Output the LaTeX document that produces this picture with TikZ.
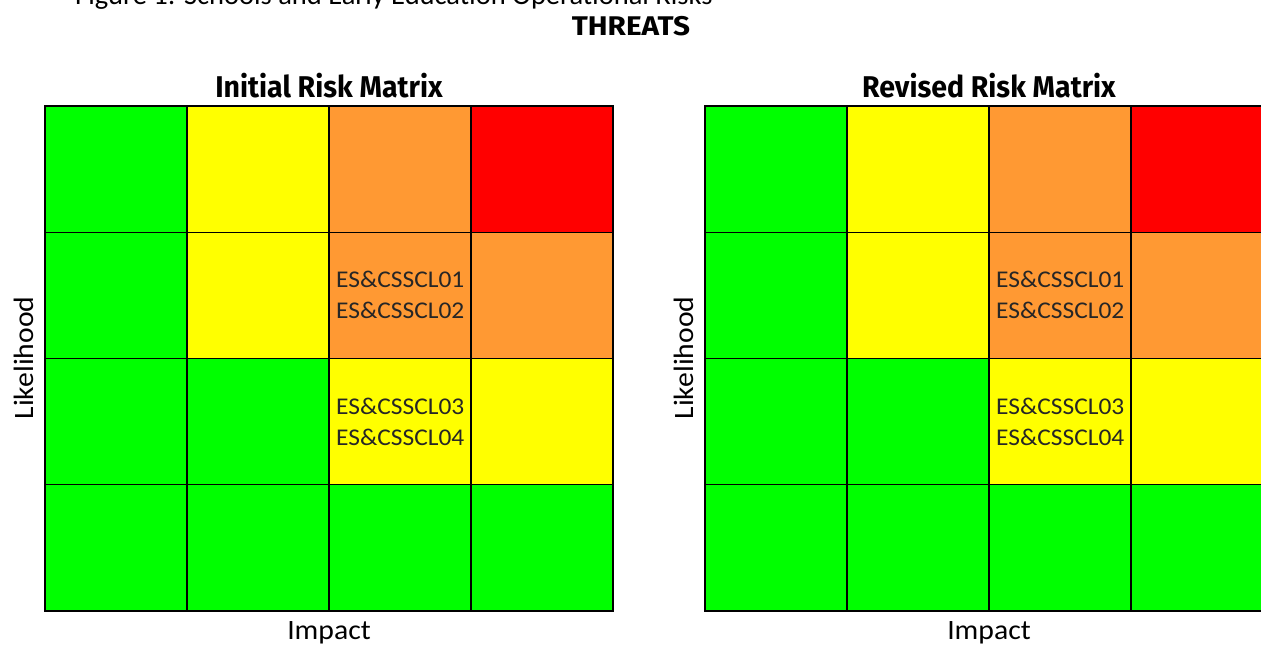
\documentclass[tikz,border=0pt]{standalone}
\usepackage{fontspec}
\setmainfont{Carlito}
\newfontfamily\widefont[FakeStretch=1.06]{Carlito}
\newfontfamily\headfont[FakeStretch=0.95]{Fira Sans}
\newfontfamily\threatfont[FakeStretch=1.1]{Fira Sans}
\usetikzlibrary{positioning}

\definecolor{riskgreen}{HTML}{00FF00}
\definecolor{riskyellow}{HTML}{FFFF00}
\definecolor{riskorange}{HTML}{FF9933}
\definecolor{riskred}{HTML}{FF0000}

\begin{document}
\begin{tikzpicture}[x=1pt,y=-1pt,
	cell/.style={draw=black,line width=1.2pt,minimum width=142pt,minimum height=126.25pt,inner sep=0pt,outer sep=0pt},
	head/.style={font=\headfont\bfseries\fontsize{30}{30}\selectfont,inner sep=0pt},
	axis/.style={font=\widefont\fontsize{28}{28}\selectfont,inner sep=0pt},
	code/.style={font=\widefont\fontsize{24}{31}\selectfont,text=black!85,align=left,inner sep=0pt,anchor=west}]
	\useasboundingbox (0,0) rectangle (1261,645);
	
	% both matrices, row by row
	\foreach \m/\xo in {L/45,R/705}
	\foreach \r/\p/\q/\s/\t in {1/riskgreen/riskyellow/riskorange/riskred,
		2/riskgreen/riskyellow/riskorange/riskorange,
		3/riskgreen/riskgreen/riskyellow/riskyellow,
		4/riskgreen/riskgreen/riskgreen/riskgreen}
	\foreach \c/\col in {1/\p,2/\q,3/\s,4/\t}
	\node[cell,fill=\col] (\m-\r-\c) at ({\xo+142*(\c-0.5)},{106+126.25*(\r-0.5)}) {};
	
	\node[anchor=base west,font=\fontsize{28.5}{28.5}\selectfont,inner sep=0pt] (caption) at (75,5) {Figure 1: Schools and Early Education Operational Risks};
	\node[anchor=base,font=\threatfont\bfseries\fontsize{27}{27}\selectfont,inner sep=0pt] (threats) at (631,35) {THREATS};
	
	\node[head,above=8pt of L-1-2.north east] (Ltitle) {Initial Risk Matrix};
	\node[head,above=8pt of R-1-2.north east] (Rtitle) {Revised Risk Matrix};
	
	\node[code,right=7pt of L-2-3.west] (L-hi) {ES\&CSSCL01\\ES\&CSSCL02};
	\node[code,right=7pt of L-3-3.west] (L-lo) {ES\&CSSCL03\\ES\&CSSCL04};
	\node[code,right=7pt of R-2-3.west] (R-hi) {ES\&CSSCL01\\ES\&CSSCL02};
	\node[code,right=7pt of R-3-3.west] (R-lo) {ES\&CSSCL03\\ES\&CSSCL04};
	
	\node[axis,rotate=90,anchor=base] (Llikely) at (33,358) {Likelihood};
	\node[axis,rotate=90,anchor=base] (Rlikely) at (693,358) {Likelihood};
	\node[axis,below=10pt of L-4-2.south east] (Limpact) {Impact};
	\node[axis,below=10pt of R-4-2.south east] (Rimpact) {Impact};
\end{tikzpicture}
\end{document}
